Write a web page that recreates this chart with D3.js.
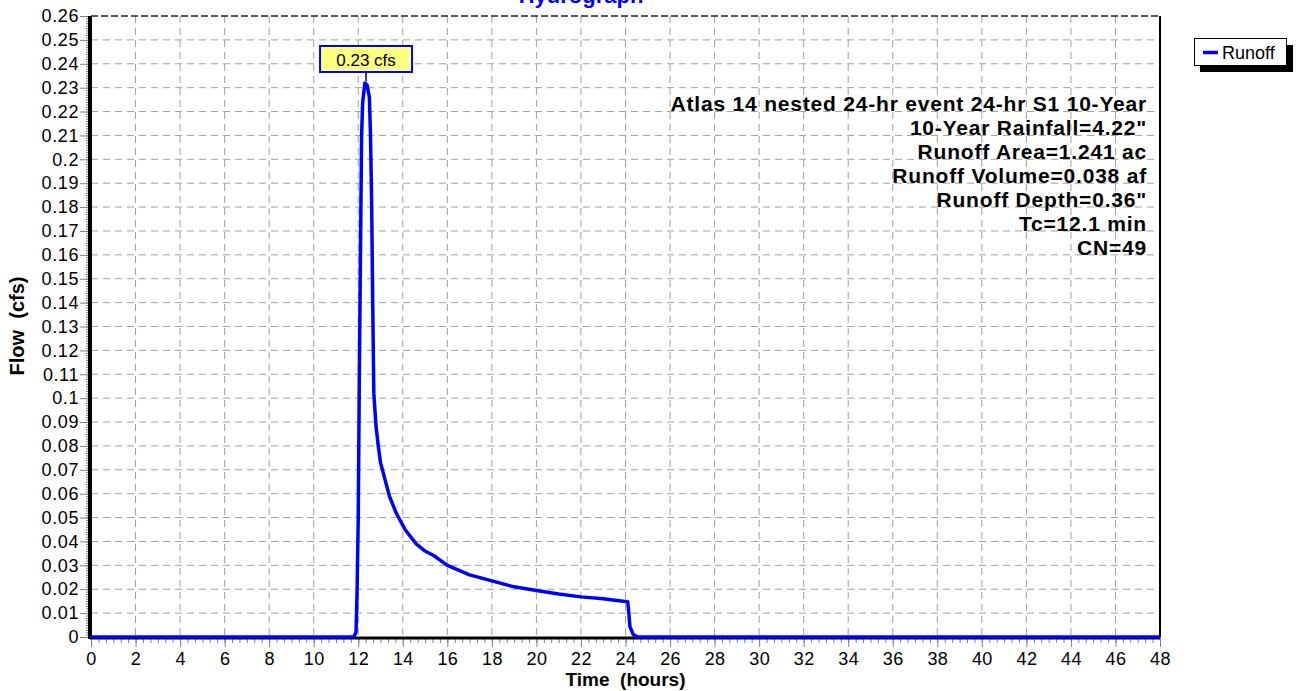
<!DOCTYPE html>
<html>
<head>
<meta charset="utf-8">
<script src="https://cdn.jsdelivr.net/npm/d3@7"></script>
<style>
    body { margin: 0; background: #fff; }
    svg text { font-family: "Liberation Sans", Arial, sans-serif; }
</style>
</head>
<body>
<div id="chart"></div>
<script>
// hydrograph (hours, cfs)
const timeHours = [0, 11.8, 11.9, 11.95, 12.0, 12.05, 12.1, 12.15, 12.2, 12.3, 12.4, 12.5, 12.55, 12.6, 12.65, 12.7,
    12.75, 12.8, 12.9, 13.0, 13.2, 13.4, 13.7, 14.1, 14.6, 15.0, 15.4, 16.0, 16.5, 17, 18, 19, 20, 21, 22, 23,
    23.7, 24.1, 24.15, 24.2, 24.35, 24.55, 48];
const flowCfs = [0, 0, 0.002, 0.02, 0.05, 0.11, 0.16, 0.21, 0.224, 0.232, 0.231, 0.226, 0.21, 0.183, 0.14, 0.102,
    0.095, 0.088, 0.080, 0.073, 0.066, 0.059, 0.052, 0.045, 0.039, 0.036, 0.034, 0.030, 0.028, 0.026, 0.0235, 0.021,
    0.0195, 0.018, 0.0168, 0.016, 0.0152, 0.0148, 0.010, 0.0043, 0.001, 0, 0];

const xTicks = [0, 2, 4, 6, 8, 10, 12, 14, 16, 18, 20, 22, 24, 26, 28, 30, 32, 34, 36, 38, 40, 42, 44, 46, 48];
const yTicks = [0, 0.01, 0.02, 0.03, 0.04, 0.05, 0.06, 0.07, 0.08, 0.09, 0.1, 0.11, 0.12, 0.13,
    0.14, 0.15, 0.16, 0.17, 0.18, 0.19, 0.2, 0.21, 0.22, 0.23, 0.24, 0.25, 0.26];
const yTickLabels = ["0", "0.01", "0.02", "0.03", "0.04", "0.05", "0.06", "0.07", "0.08", "0.09", "0.1", "0.11", "0.12", "0.13",
    "0.14", "0.15", "0.16", "0.17", "0.18", "0.19", "0.2", "0.21", "0.22", "0.23", "0.24", "0.25", "0.26"];

const infoLines = [
    "Atlas 14 nested 24-hr event 24-hr S1 10-Year",
    "10-Year Rainfall=4.22\"",
    "Runoff Area=1.241 ac",
    "Runoff Volume=0.038 af",
    "Runoff Depth=0.36\"",
    "Tc=12.1 min",
    "CN=49"
];
const peakTime = 12.35;
const peakFlow = 0.232;
const peakLabel = "0.23 cfs";
const seriesName = "Runoff";

drawHydrograph();

function drawHydrograph() {
    const margin = { top: 16, right: 136, bottom: 54, left: 91 };
    const width = 1296 - margin.left - margin.right;
    const height = 691 - margin.top - margin.bottom;

    const root = d3.select("#chart").append("svg")
        .attr("width", 1296)
        .attr("height", 691);

    const svg = root.append("g")
        .attr("transform", `translate(${margin.left},${margin.top})`);

    const x = d3.scaleLinear().domain([0, 48]).range([0, width]);
    const y = d3.scaleLinear().domain([0, 0.26]).range([height, 0]);

    // grid
    svg.append("g")
        .selectAll("line")
        .data(xTicks.slice(1, -1))
        .enter().append("line")
        .attr("x1", d => x(d)).attr("x2", d => x(d))
        .attr("y1", 0).attr("y2", height)
        .attr("stroke", "#a0a0a0")
        .attr("stroke-width", 1)
        .attr("stroke-dasharray", "7,5");

    svg.append("g")
        .selectAll("line")
        .data(yTicks.slice(1, -1))
        .enter().append("line")
        .attr("x1", 0).attr("x2", width)
        .attr("y1", d => y(d)).attr("y2", d => y(d))
        .attr("stroke", "#a0a0a0")
        .attr("stroke-width", 1)
        .attr("stroke-dasharray", "7,5");

    // top border dashed, right border solid
    svg.append("line")
        .attr("x1", 0).attr("x2", width).attr("y1", 0).attr("y2", 0)
        .attr("stroke", "#222").attr("stroke-width", 1.5)
        .attr("stroke-dasharray", "7,3");
    svg.append("line")
        .attr("x1", width).attr("x2", width).attr("y1", 0).attr("y2", height)
        .attr("stroke", "#000").attr("stroke-width", 2);

    // y axis
    const yMinor = d3.range(0, 261).map(i => i / 1000);
    svg.append("g")
        .attr("class", "y-minor")
        .call(d3.axisLeft(y).tickValues(yMinor).tickSize(5).tickFormat(""))
        .call(g => g.select(".domain").remove())
        .selectAll("line").attr("stroke", "#808080");

    const yAxis = svg.append("g")
        .attr("class", "y-axis")
        .call(d3.axisLeft(y).tickValues(yTicks).tickSize(11).tickPadding(1)
            .tickFormat((d, i) => yTickLabels[i]));
    yAxis.select(".domain").remove();
    yAxis.selectAll("line").attr("stroke", "#808080");
    yAxis.selectAll("text")
        .attr("font-size", 18)
        .attr("letter-spacing", 0.6)
        .attr("fill", "#000")
        .style("font-family", "'Liberation Sans', Arial, sans-serif");

    // x axis
    const xMinor = d3.range(0, 145).map(i => i / 3);
    svg.append("g")
        .attr("class", "x-minor")
        .attr("transform", `translate(0,${height})`)
        .call(d3.axisBottom(x).tickValues(xMinor).tickSize(6).tickFormat(""))
        .call(g => g.select(".domain").remove())
        .selectAll("line").attr("stroke", "#808080");

    const xAxis = svg.append("g")
        .attr("class", "x-axis")
        .attr("transform", `translate(0,${height})`)
        .call(d3.axisBottom(x).tickValues(xTicks).tickSize(10).tickPadding(5));
    xAxis.select(".domain").remove();
    xAxis.selectAll("line").attr("stroke", "#808080");
    xAxis.selectAll("text")
        .attr("font-size", 18)
        .attr("letter-spacing", 0.4)
        .attr("fill", "#000")
        .style("font-family", "'Liberation Sans', Arial, sans-serif");

    // heavy axis lines
    svg.append("line")
        .attr("x1", -1).attr("x2", -1).attr("y1", 0).attr("y2", height + 2)
        .attr("stroke", "#000").attr("stroke-width", 4);
    svg.append("line")
        .attr("x1", -1).attr("x2", width).attr("y1", height + 1).attr("y2", height + 1)
        .attr("stroke", "#000").attr("stroke-width", 3);

    // the runoff line
    const series = timeHours.map((t, i) => ({ t: t, q: flowCfs[i] }));
    const line = d3.line()
        .x(d => x(d.t))
        .y(d => y(d.q));

    svg.append("path")
        .datum(series)
        .attr("fill", "none")
        .attr("stroke", "#0000ff")
        .attr("stroke-width", 3.5)
        .attr("stroke-linejoin", "round")
        .attr("d", line);

    // peak callout
    const px = x(peakTime);
    svg.append("line")
        .attr("x1", px).attr("x2", px)
        .attr("y1", y(peakFlow) - 2).attr("y2", 56)
        .attr("stroke", "#000").attr("stroke-width", 1.5);
    svg.append("rect")
        .attr("x", px - 46).attr("y", 30)
        .attr("width", 92).attr("height", 26)
        .attr("fill", "#ffff80")
        .attr("stroke", "#0000ff")
        .attr("stroke-width", 2);
    svg.append("text")
        .attr("x", px).attr("y", 50)
        .attr("text-anchor", "middle")
        .attr("font-size", 17)
        .attr("fill", "#000")
        .text(peakLabel);

    // info block
    svg.append("g")
        .selectAll("text")
        .data(infoLines)
        .enter().append("text")
        .attr("x", 1147 - margin.left)
        .attr("y", (d, i) => 111 - margin.top + i * 24)
        .attr("text-anchor", "end")
        .attr("font-size", 21)
        .attr("letter-spacing", 0.8)
        .attr("font-weight", "bold")
        .attr("fill", "#000")
        .text(d => d);

    // titles
    root.append("text")
        .attr("x", 581)
        .attr("y", 3)
        .attr("text-anchor", "middle")
        .attr("font-size", 22)
        .attr("font-weight", "bold")
        .attr("fill", "#0000ff")
        .text("Hydrograph");

    root.append("text")
        .attr("x", margin.left + width / 2)
        .attr("y", 686)
        .attr("text-anchor", "middle")
        .attr("font-size", 19)
        .attr("font-weight", "bold")
        .attr("fill", "#000")
        .style("white-space", "pre")
        .text("Time  (hours)");

    root.append("text")
        .attr("transform", "translate(24,326) rotate(-90)")
        .attr("text-anchor", "middle")
        .attr("font-size", 20)
        .attr("font-weight", "bold")
        .attr("fill", "#000")
        .style("white-space", "pre")
        .text("Flow  (cfs)");

    // legend
    const legend = root.append("g").attr("transform", "translate(1194,38)");
    legend.append("rect")
        .attr("x", 6).attr("y", 7).attr("width", 93).attr("height", 27)
        .attr("fill", "#000");
    legend.append("rect")
        .attr("x", 0.5).attr("y", 0.5).attr("width", 92).attr("height", 27)
        .attr("fill", "#fff").attr("stroke", "#000").attr("stroke-width", 1);
    legend.append("line")
        .attr("x1", 9).attr("x2", 24).attr("y1", 14.5).attr("y2", 14.5)
        .attr("stroke", "#0000ff").attr("stroke-width", 3.5);
    legend.append("text")
        .attr("x", 28).attr("y", 21)
        .attr("font-size", 18)
        .attr("fill", "#000")
        .text(seriesName);
}
</script>
</body>
</html>
